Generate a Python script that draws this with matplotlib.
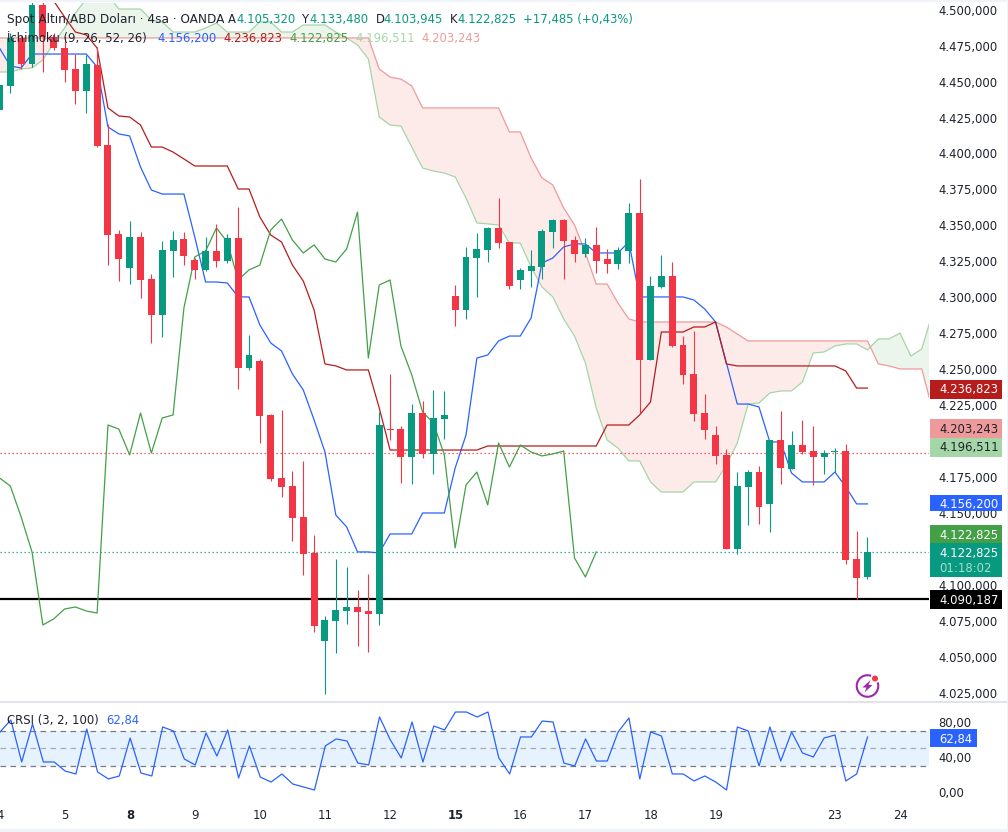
import numpy as np
import matplotlib
matplotlib.use("Agg")
import matplotlib.pyplot as plt
from matplotlib.patches import Rectangle, Circle, Polygon, Arc
from matplotlib.ticker import FuncFormatter

plt.rcParams['font.family'] = ['DejaVu Sans']

# candles, one per 4h bar
opens = [4430.3, 4447.0, 4480.4, 4462.3, 4503.3, 4481.1, 4473.4, 4458.8, 4443.5, 4461.6,
         4405.9, 4344.0, 4320.4, 4341.9, 4312.7, 4287.7, 4332.2, 4340.5, 4325.9, 4319.0,
         4332.2, 4325.2, 4341.2, 4250.8, 4255.7, 4218.1, 4174.3, 4168.7, 4147.1, 4122.1,
         4060.9, 4074.8, 4081.7, 4084.5, 4081.7, 4079.6, 4208.3, 4208.3, 4188.9, 4219.5,
         4191.0, 4215.3, 4300.9, 4291.1, 4327.3, 4332.9, 4348.2, 4338.4, 4312.0, 4318.3,
         4321.0, 4345.4, 4353.7, 4339.8, 4330.1, 4336.4, 4326.6, 4323.1, 4332.2, 4358.6,
         4256.3, 4307.1, 4314.8, 4266.8, 4246.6, 4219.5, 4204.2, 4190.3, 4124.9, 4168.0,
         4178.4, 4156.2, 4200.7, 4180.5, 4197.2, 4193.0, 4188.9, 4192.3, 4193.0, 4117.9,
         4105.32]
highs = [4447.7, 4483.8, 4481.8, 4506.1, 4505.4, 4483.8, 4481.1, 4469.2, 4468.5, 4474.1,
         4420.5, 4346.8, 4353.1, 4345.4, 4316.2, 4339.1, 4346.1, 4345.4, 4327.3, 4341.9,
         4351.0, 4344.0, 4362.8, 4273.7, 4257.0, 4218.8, 4221.6, 4179.1, 4186.1, 4134.6,
         4078.2, 4117.9, 4112.3, 4096.3, 4107.5, 4220.2, 4246.6, 4210.4, 4225.7, 4227.8,
         4235.5, 4234.8, 4308.5, 4335.0, 4344.7, 4348.9, 4369.1, 4338.4, 4320.4, 4332.9,
         4347.5, 4354.4, 4354.4, 4342.6, 4341.2, 4348.9, 4333.6, 4335.0, 4365.6, 4382.3,
         4314.8, 4329.4, 4324.5, 4273.0, 4276.5, 4232.7, 4210.4, 4194.4, 4178.4, 4179.8,
         4182.6, 4200.7, 4220.9, 4207.0, 4214.6, 4210.4, 4193.7, 4195.1, 4197.9, 4137.4,
         4133.48]
lows = [4430.3, 4442.1, 4458.8, 4460.2, 4456.7, 4472.0, 4449.8, 4434.4, 4428.2, 4404.5,
        4322.4, 4311.3, 4309.2, 4299.5, 4268.2, 4272.3, 4314.1, 4322.4, 4312.7, 4318.3,
        4321.0, 4323.8, 4236.2, 4249.4, 4198.6, 4172.2, 4161.0, 4130.4, 4106.8, 4067.1,
        4024.0, 4052.5, 4072.7, 4057.4, 4053.2, 4072.0, 4200.7, 4170.8, 4170.1, 4188.2,
        4177.0, 4201.4, 4280.0, 4284.9, 4300.2, 4324.5, 4334.3, 4305.7, 4305.7, 4307.1,
        4312.7, 4334.3, 4312.7, 4324.5, 4328.0, 4316.9, 4316.9, 4319.7, 4323.8, 4218.8,
        4256.3, 4306.4, 4265.4, 4239.7, 4213.9, 4201.4, 4184.0, 4124.9, 4121.4, 4141.6,
        4142.3, 4136.7, 4170.1, 4180.5, 4191.0, 4169.4, 4177.0, 4178.4, 4114.4, 4090.1,
        4103.945]
closes = [4447.7, 4480.4, 4462.3, 4503.3, 4481.1, 4473.4, 4458.1, 4443.5, 4462.3, 4405.2,
          4343.3, 4326.6, 4341.9, 4312.0, 4287.7, 4332.9, 4339.8, 4328.7, 4319.0, 4332.2,
          4325.2, 4341.2, 4250.8, 4259.8, 4217.4, 4173.6, 4168.0, 4146.4, 4121.4, 4071.3,
          4075.5, 4082.4, 4084.5, 4081.0, 4079.6, 4211.1, 4207.6, 4188.9, 4219.5, 4191.0,
          4216.0, 4218.1, 4291.1, 4328.0, 4333.6, 4348.2, 4337.7, 4307.8, 4319.0, 4321.7,
          4346.1, 4353.7, 4339.1, 4330.1, 4336.4, 4325.2, 4323.1, 4332.9, 4358.6, 4256.3,
          4307.8, 4314.8, 4266.1, 4245.9, 4218.8, 4207.6, 4189.6, 4124.9, 4168.7, 4178.4,
          4154.1, 4200.7, 4181.2, 4197.2, 4192.3, 4188.9, 4191.6, 4193.0, 4117.2, 4104.7,
          4122.825]

# ichimoku lines
tenkan = [4473.4, 4460.9, 4459.5, 4469.2, 4469.2, 4469.2, 4469.2, 4469.2, 4469.2, 4460.2,
          4418.5, 4413.6, 4412.2, 4390.6, 4374.6, 4371.8, 4371.8, 4371.8, 4341.9, 4310.6,
          4310.6, 4309.9, 4300.2, 4300.2, 4280.7, 4268.2, 4262.6, 4246.6, 4235.5, 4214.6,
          4192.3, 4148.5, 4140.2, 4122.8, 4122.8, 4122.1, 4135.3, 4135.3, 4135.3, 4149.9,
          4149.9, 4149.9, 4181.2, 4204.2, 4257.7, 4259.8, 4269.6, 4273.0, 4273.0, 4285.6,
          4323.8, 4327.3, 4335.0, 4337.1, 4337.1, 4330.8, 4330.8, 4330.8, 4338.4, 4300.2,
          4300.2, 4300.2, 4300.2, 4300.2, 4298.1, 4291.8, 4282.8, 4254.3, 4225.7, 4225.7,
          4223.7, 4199.3, 4199.3, 4177.7, 4171.5, 4171.5, 4171.5, 4178.4, 4168.0, 4156.2,
          4156.2]
kijun = [np.nan, np.nan, np.nan, np.nan, 4520.7, 4506.1, 4495.0, 4484.5, 4482.5, 4473.4,
         4431.7, 4426.1, 4425.4, 4419.8, 4404.5, 4404.5, 4401.0, 4396.2, 4391.3, 4391.3,
         4391.3, 4391.3, 4375.3, 4375.3, 4355.8, 4343.3, 4338.4, 4322.4, 4311.3, 4291.1,
         4253.6, 4252.2, 4249.4, 4249.4, 4249.4, 4223.0, 4193.7, 4193.7, 4193.7, 4193.7,
         4193.7, 4193.7, 4193.7, 4193.7, 4193.7, 4196.5, 4196.5, 4196.5, 4196.5, 4196.5,
         4196.5, 4196.5, 4196.5, 4196.5, 4196.5, 4196.5, 4211.1, 4211.1, 4211.1, 4218.1,
         4227.1, 4275.8, 4275.8, 4275.8, 4279.3, 4279.3, 4282.8, 4253.6, 4252.2, 4252.2,
         4252.2, 4252.2, 4252.2, 4252.2, 4252.2, 4252.2, 4252.2, 4252.2, 4248.7, 4236.8,
         4236.8]
chikou = [4174.3, 4168.7, 4147.1, 4122.8, 4072.0, 4076.2, 4083.1, 4084.5, 4081.7, 4080.3,
          4211.1, 4208.3, 4190.3, 4219.5, 4191.6, 4216.0, 4218.1, 4292.5, 4328.0, 4332.2,
          4348.2, 4338.4, 4312.0, 4319.0, 4322.4, 4346.8, 4354.4, 4339.8, 4330.8, 4336.4,
          4326.6, 4324.5, 4333.6, 4359.3, 4257.7, 4308.5, 4312.0, 4266.1, 4245.9, 4220.2,
          4212.5, 4190.3, 4125.6, 4169.4, 4178.4, 4155.5, 4198.6, 4181.9, 4197.2, 4192.3,
          4189.6, 4191.0, 4193.0, 4118.6, 4105.4, 4122.8]
senkou_a = [4456.7, 4456.7, 4458.8, 4459.5, 4465.1, 4476.9, 4487.3, 4497.8, 4507.5, 4510.3,
            4510.3, 4500.5, 4500.5, 4500.5, 4492.9, 4491.5, 4484.5, 4484.5, 4484.5, 4487.3,
            4490.8, 4484.5, 4484.5, 4484.5, 4491.5, 4491.5, 4484.5, 4484.5, 4489.4, 4489.4,
            4489.4, 4484.5, 4480.4, 4475.5, 4465.8, 4425.4, 4419.8, 4419.1, 4404.5, 4389.9,
            4387.8, 4386.4, 4383.7, 4369.0, 4351.7, 4351.0, 4350.3, 4337.7, 4337.7, 4321.0,
            4307.1, 4300.2, 4284.9, 4273.0, 4254.3, 4223.0, 4200.7, 4195.1, 4186.1, 4186.1,
            4171.5, 4164.5, 4164.5, 4164.5, 4171.5, 4171.5, 4171.5, 4183.3, 4198.6, 4225.7,
            4226.4, 4233.4, 4234.8, 4234.8, 4241.0, 4261.2, 4261.9, 4266.1, 4267.5, 4267.5,
            4263.3, 4271.0, 4271.0, 4275.1, 4259.1, 4264.0, 4289.0]
senkou_b = [4480.4, 4480.4, 4480.4, 4480.4, 4480.4, 4480.4, 4480.4, 4480.4, 4480.4, 4480.4,
            4480.4, 4480.4, 4480.4, 4480.4, 4480.4, 4480.4, 4480.4, 4480.4, 4480.4, 4480.4,
            4480.4, 4480.4, 4480.4, 4480.4, 4480.4, 4480.4, 4480.4, 4480.4, 4480.4, 4480.4,
            4480.4, 4480.4, 4480.4, 4480.4, 4480.4, 4458.8, 4453.2, 4451.8, 4447.0, 4431.7,
            4431.7, 4431.7, 4431.7, 4431.7, 4431.7, 4431.7, 4431.7, 4415.0, 4415.0, 4396.9,
            4383.0, 4378.1, 4362.1, 4350.3, 4330.8, 4309.2, 4309.2, 4296.0, 4284.9, 4282.8,
            4282.8, 4282.8, 4282.8, 4282.8, 4282.8, 4282.8, 4282.8, 4279.3, 4274.4, 4269.6,
            4269.6, 4269.6, 4269.6, 4269.6, 4269.6, 4269.6, 4269.6, 4269.6, 4269.6, 4269.6,
            4269.6, 4253.6, 4252.2, 4250.1, 4250.1, 4250.1, 4221.6]

support_level = 4090.187
prev_close_level = 4191.6
last_close_level = 4122.825

crsi = [68.6, 82.3, 34.3, 77.7, 34.3, 34.3, 24.0, 20.6, 72.0, 22.9,
        14.9, 18.3, 61.7, 21.7, 18.3, 74.3, 69.7, 37.7, 30.9, 67.4,
        41.1, 70.9, 16.0, 52.6, 17.1, 11.4, 20.6, 9.1, 5.7, 2.3,
        52.6, 60.6, 58.3, 33.1, 30.9, 85.7, 59.4, 38.9, 80.0, 34.3,
        75.4, 70.9, 91.4, 91.4, 85.7, 91.4, 38.9, 20.6, 62.9, 62.9,
        81.1, 80.0, 33.1, 29.7, 60.6, 35.4, 35.4, 68.6, 84.6, 14.9,
        68.6, 64.0, 20.6, 20.6, 12.6, 18.3, 11.4, 2.3, 74.3, 69.7,
        29.7, 74.3, 35.4, 68.6, 44.6, 40.0, 61.7, 65.1, 12.6, 20.6,
        62.84]

price_ticks = [4025, 4050, 4075, 4100, 4125, 4150, 4175, 4200, 4225, 4250, 4275, 4300,
               4325, 4350, 4375, 4400, 4425, 4450, 4475, 4500]
crsi_ticks = [0, 40, 80]
date_bars = [0, 6, 12, 18, 24, 30, 36, 42, 48, 54, 60, 66, 77, 83]
date_labels = ['4', '5', '8', '9', '10', '11', '12', '15', '16', '17', '18', '19', '23', '24']
bold_dates = ['8', '15']

UP = '#089981'
DOWN = '#f23645'
BLUE = '#2962ff'
KIJUN = '#b71c1c'
CHIKOU = '#43a047'
SPAN_A = '#a5d6a7'
SPAN_B = '#ef9a9a'
TEXT = '#1e222d'
FS = 8.4
LW = 0.9

W, H = 1008, 832
fig = plt.figure(figsize=(W / 100, H / 100), dpi=100, facecolor='white')


def axes_px(left, top, right, bottom):
    return [left / W, 1 - bottom / H, (right - left) / W, (bottom - top) / H]


ax = fig.add_axes(axes_px(0, 3, 929, 701))
rsi = fig.add_axes(axes_px(0, 703, 929, 800))
for a in (ax, rsi):
    a.set_xlim(0.05, 85.67)
    for spine in a.spines.values():
        spine.set_visible(False)

ax.set_ylim(4019.1, 4504.7)
rsi.set_ylim(-9.14, 101.7)

# cloud
xc = np.arange(len(senkou_a))
sa = np.array(senkou_a)
sb = np.array(senkou_b)
ax.fill_between(xc, sa, sb, where=sa >= sb, interpolate=True, color=CHIKOU, alpha=0.1, lw=0, zorder=1)
ax.fill_between(xc, sa, sb, where=sa < sb, interpolate=True, color='#f44336', alpha=0.1, lw=0, zorder=1)
ax.plot(xc, sa, color=SPAN_A, lw=LW, zorder=2)
ax.plot(xc, sb, color=SPAN_B, lw=LW, zorder=2)

# price lines and ichimoku
ax.axhline(support_level, color='black', lw=1.6, zorder=2)
ax.axhline(prev_close_level, color=DOWN, lw=0.9, ls=(0, (1, 2.2)), zorder=2)
ax.axhline(last_close_level, color=UP, lw=0.9, ls=(0, (1, 2.2)), zorder=2)
ax.plot(np.arange(len(tenkan)), tenkan, color=BLUE, lw=LW, zorder=3)
ax.plot(np.arange(len(kijun)), kijun, color=KIJUN, lw=LW, zorder=3)
ax.plot(np.arange(len(chikou)), chikou, color=CHIKOU, lw=LW, zorder=3)

# candles
xb = np.arange(len(opens))
op = np.array(opens)
cl = np.array(closes)
colors = [UP if c >= o else DOWN for o, c in zip(op, cl)]
ax.vlines(xb, lows, highs, colors=colors, lw=0.8, zorder=4)
ax.bar(xb, np.maximum(np.abs(cl - op), 0.7), bottom=np.minimum(op, cl), width=0.64,
       color=colors, lw=0, zorder=5)

ax.yaxis.tick_right()
ax.set_yticks(price_ticks)
ax.yaxis.set_major_formatter(FuncFormatter(
    lambda v, _: f"{v:,.3f}".replace(',', '#').replace('.', ',').replace('#', '.')))
ax.tick_params(axis='y', length=0, pad=7, labelsize=FS, labelcolor=TEXT)
ax.set_xticks([])

# CRSI pane
rsi.axhspan(30, 70, color='#e6f3fe', lw=0, zorder=1)
rsi.axhline(70, color='#787b86', lw=0.9, ls=(0, (4.5, 3.5)), zorder=2)
rsi.axhline(50, color='#a9abb2', lw=0.9, ls=(0, (4.5, 3.5)), zorder=2)
rsi.axhline(30, color='#787b86', lw=0.9, ls=(0, (4.5, 3.5)), zorder=2)
rsi.plot(np.arange(len(crsi)), crsi, color=BLUE, lw=LW, zorder=3)
rsi.yaxis.tick_right()
rsi.set_yticks(crsi_ticks)
rsi.set_yticklabels([f"{v},00" for v in crsi_ticks])
rsi.tick_params(axis='y', length=0, pad=7, labelsize=FS, labelcolor=TEXT)
rsi.set_xticks(date_bars)
rsi.set_xticklabels(date_labels)
rsi.tick_params(axis='x', length=0, pad=6.5, labelsize=FS, labelcolor=TEXT)
for lab in rsi.get_xticklabels():
    if lab.get_text() in bold_dates:
        lab.set_fontweight('bold')

# overlay in pixel coordinates: legends, price tags, page bands
ov = fig.add_axes([0, 0, 1, 1], zorder=10)
ov.set_xlim(0, W)
ov.set_ylim(H, 0)
ov.axis('off')


def label(x, y, s, color=TEXT, size=FS, ha='left'):
    ov.text(x, y, s, color=color, fontsize=size, ha=ha, va='center_baseline')


def tag(x0, x1, y0, y1, color):
    ov.add_patch(Rectangle((x0, y0), x1 - x0, y1 - y0, color=color, lw=0, zorder=2))


ov.add_patch(Rectangle((0, 0), W, 2, color='#f0f3fa', lw=0))
ov.add_patch(Rectangle((0, 829), W, 3, color='#f0f3fa', lw=0))
ov.add_patch(Rectangle((0, 700.5), W, 2, color='#e0e3eb', lw=0))
ov.add_patch(Rectangle((1006.5, 0), 1.5, H, color='#f0f3fa', lw=0))

label(7, 18, 'Spot Altın/ABD Doları · 4sa · OANDA', size=8.7)
for x_l, l, x_v, v in [(228, 'A', 236, '4.105,320'), (302, 'Y', 309, '4.133,480'),
                       (376, 'D', 383, '4.103,945'), (450, 'K', 457, '4.122,825')]:
    label(x_l, 18, l)
    label(x_v, 18, v, UP)
label(523, 18, '+17,485 (+0,43%)', UP)

label(7, 37, 'İchimoku (9, 26, 52, 26)')
label(157, 37, '4.156,200', BLUE)
label(223, 37, '4.236,823', KIJUN)
label(289, 37, '4.122,825', CHIKOU)
label(355, 37, '4.196,511', SPAN_A)
label(421, 37, '4.203,243', SPAN_B)

label(7, 719, 'CRSI (3, 2, 100)')
label(106, 719, '62,84', BLUE)

tag(930, 1002, 380, 399, KIJUN)
tag(930, 1002, 419, 438, SPAN_B)
tag(930, 1002, 438, 457, SPAN_A)
tag(930, 1002, 495, 511, BLUE)
tag(930, 1002, 525, 543, CHIKOU)
tag(930, 1002, 543, 577, UP)
tag(930, 1002, 590, 609, 'black')
tag(930, 977, 729, 747, BLUE)

for y, s, c in [(388.5, '4.236,823', 'white'), (427.5, '4.203,243', TEXT), (446.5, '4.196,511', TEXT),
                (503, '4.156,200', 'white'), (533.5, '4.122,825', 'white'), (552, '4.122,825', 'white'),
                (567, '01:18:02', '#a6dcd2'), (599, '4.090,187', 'white'), (738, '62,84', 'white')]:
    ov.text(939, y, s, color=c, fontsize=FS, ha='left', va='center_baseline', zorder=3)

# lightning badge
ov.add_patch(Arc((867.5, 686), 21.5, 21.5, theta1=-20, theta2=290, color='#9c27b0', lw=1.5))
ov.add_patch(Polygon([(870.5, 680), (862.5, 687.5), (866.5, 687.5), (864.5, 692.5),
                      (872.5, 685), (868.5, 685)], color='#9c27b0', lw=0))
ov.add_patch(Circle((875, 678.5), 4.2, color='white', lw=0))
ov.add_patch(Circle((875, 678.5), 3, color=DOWN, lw=0))

fig.savefig('out.png', dpi=100, facecolor='white')
